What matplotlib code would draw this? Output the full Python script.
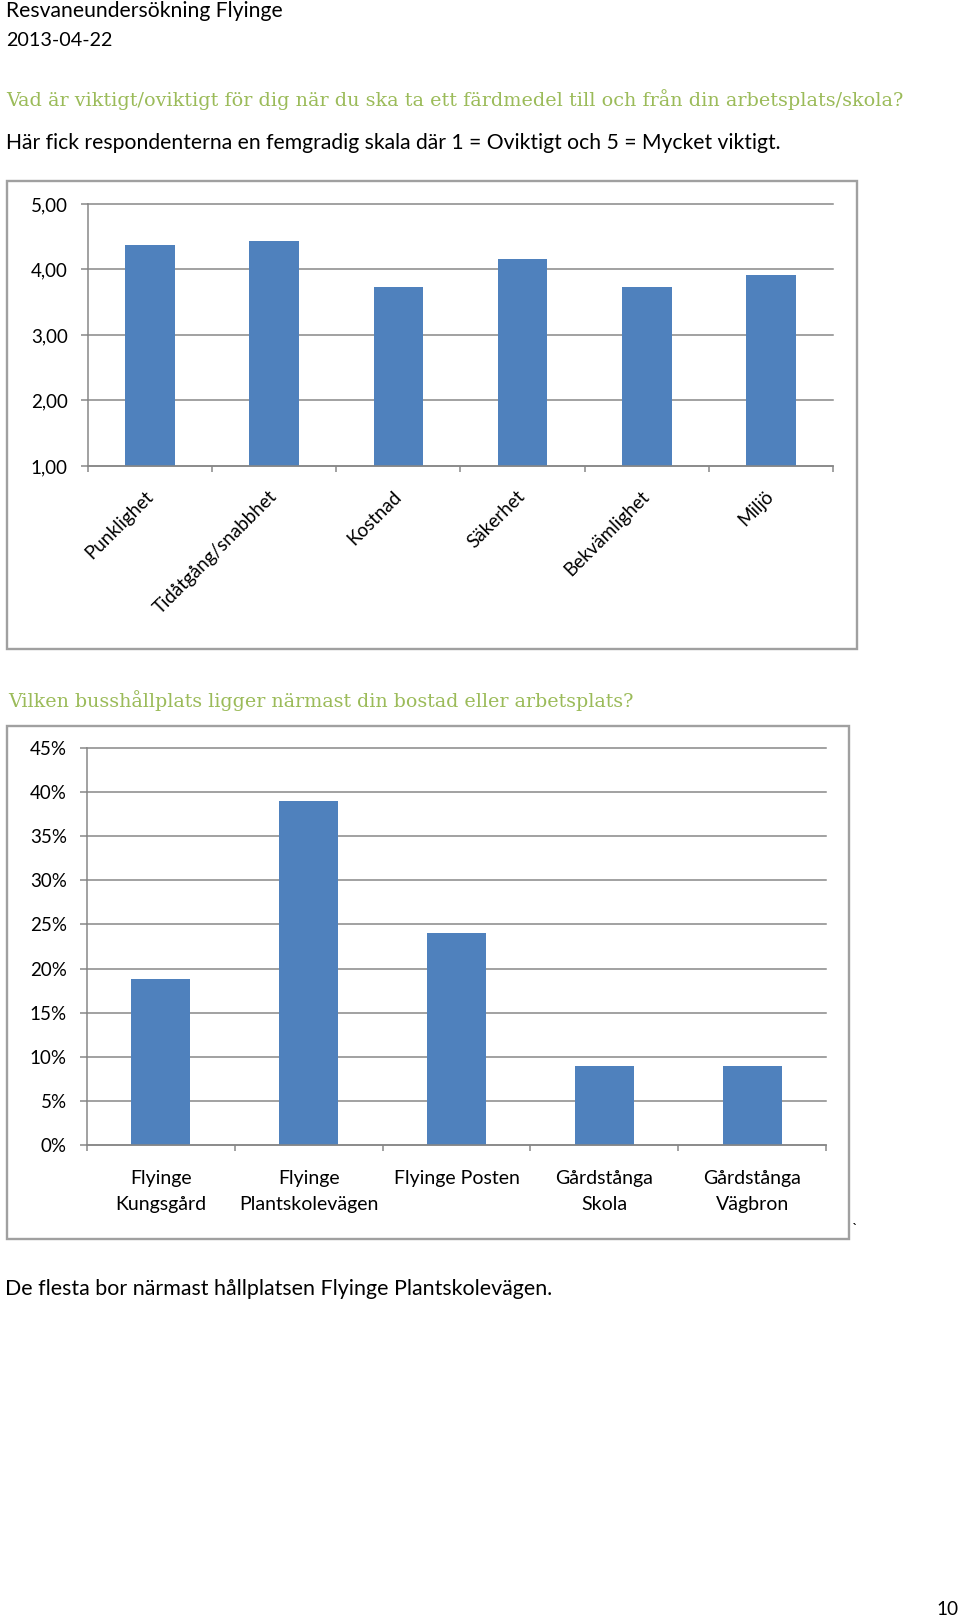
import matplotlib
matplotlib.use("Agg")
import matplotlib.pyplot as plt
from matplotlib.patches import Rectangle
from matplotlib.ticker import FixedLocator

W, H = 960, 1619

# chart 1: importance, scale 1-5
criteria = ["Punklighet", "Tidåtgång/snabbhet", "Kostnad", "Säkerhet",
            "Bekvämlighet", "Miljö"]
importance = [4.38, 4.44, 3.73, 4.16, 3.74, 3.92]
importance_ticks = [1, 2, 3, 4, 5]

# chart 2: nearest bus stop
stops = ["Flyinge\nKungsgård", "Flyinge\nPlantskolevägen", "Flyinge Posten",
         "Gårdstånga\nSkola", "Gårdstånga\nVägbron"]
stop_share = [18.8, 39.0, 24.0, 8.9, 8.9]
share_ticks = [0, 5, 10, 15, 20, 25, 30, 35, 40, 45]

BLUE = "#4F81BD"
GRID = "#878787"
FRAME = "#A0A0A0"
GREEN = "#9BBB59"

plt.rcParams["font.family"] = ["Lato", "DejaVu Sans"]

fig = plt.figure(figsize=(W / 100, H / 100), dpi=100)
renderer = fig.canvas.get_renderer()


def rect(x0, y0, x1, y1):
    return [x0 / W, 1 - y1 / H, (x1 - x0) / W, (y1 - y0) / H]


def fit_text(x, y, s, width, size=14, ha="left", **kw):
    # place text at pixel baseline and scale font so it spans the given width
    t = fig.text(x / W, 1 - y / H, s, fontsize=size, ha=ha, va="baseline", **kw)
    w = t.get_window_extent(renderer).width
    t.set_fontsize(size * width / w)
    return t


def frame(x0, y0, x1, y1):
    r = rect(x0, y0, x1, y1)
    fig.add_artist(Rectangle((r[0], r[1]), r[2], r[3], transform=fig.transFigure,
                             fill=False, edgecolor=FRAME, linewidth=1.7))


def style_axes(ax, n):
    ax.set_xlim(-0.5, n - 0.5)
    for s in ["top", "right"]:
        ax.spines[s].set_visible(False)
    for s in ["left", "bottom"]:
        ax.spines[s].set_color(GRID)
        ax.spines[s].set_linewidth(1.1)
    ax.set_axisbelow(True)
    ax.yaxis.grid(True, color=GRID, linewidth=1.1)
    for line in ax.get_ygridlines():
        line.set_clip_on(False)
    ax.xaxis.set_minor_locator(FixedLocator([i - 0.5 for i in range(n + 1)]))
    ax.tick_params(axis="x", which="major", length=0)
    ax.tick_params(axis="x", which="minor", length=4.5, width=1.1, color=GRID,
                   direction="out")
    ax.tick_params(axis="y", length=5, width=1.1, color=GRID, direction="out",
                   labelsize=13.5, pad=9.5)


# header texts
fit_text(6, 17, "Resvaneundersökning Flyinge", 276)
fit_text(6, 46, "2013-04-22", 107)
fit_text(6, 106, "Vad är viktigt/oviktigt för dig när du ska ta ett färdmedel till och från din arbetsplats/skola?",
         897, color=GREEN, family="DejaVu Serif")
fit_text(6, 149, "Här fick respondenterna en femgradig skala där 1 = Oviktigt och 5 = Mycket viktigt.", 777)

# chart 1
frame(7, 181, 857, 649)
ax1 = fig.add_axes(rect(88, 204, 833, 466))
ax1.bar(range(len(criteria)), importance, width=0.4, color=BLUE)
ax1.set_ylim(1, 5)
ax1.set_yticks(importance_ticks)
ax1.set_yticklabels([f"{v:.2f}".replace(".", ",") for v in importance_ticks])
style_axes(ax1, len(criteria))
ax1.set_xticks(range(len(criteria)))
ax1.set_xticklabels(criteria, rotation=45, ha="right", va="center",
                    rotation_mode="anchor", fontsize=13.5)
ax1.tick_params(axis="x", which="major", pad=20)

# chart 2
fit_text(8, 707, "Vilken busshållplats ligger närmast din bostad eller arbetsplats?",
         627, color=GREEN, family="DejaVu Serif")
frame(7, 726, 849, 1239)
ax2 = fig.add_axes(rect(87, 748, 826, 1145))
ax2.bar(range(len(stops)), stop_share, width=0.4, color=BLUE)
ax2.set_ylim(0, 45)
ax2.set_yticks(share_ticks)
ax2.set_yticklabels([f"{v}%" for v in share_ticks])
style_axes(ax2, len(stops))
ax2.set_xticks(range(len(stops)))
ax2.set_xticklabels(stops, fontsize=14, linespacing=1.62, va="top")
ax2.tick_params(axis="x", which="major", pad=18)
fig.text(855 / W, 1 - 1234 / H, "`", fontsize=11, ha="center", va="baseline")

fit_text(5, 1295, "De flesta bor närmast hållplatsen Flyinge Plantskolevägen.", 546)
fit_text(958, 1615, "10", 22, ha="right")

fig.savefig("out.png", dpi=100)
